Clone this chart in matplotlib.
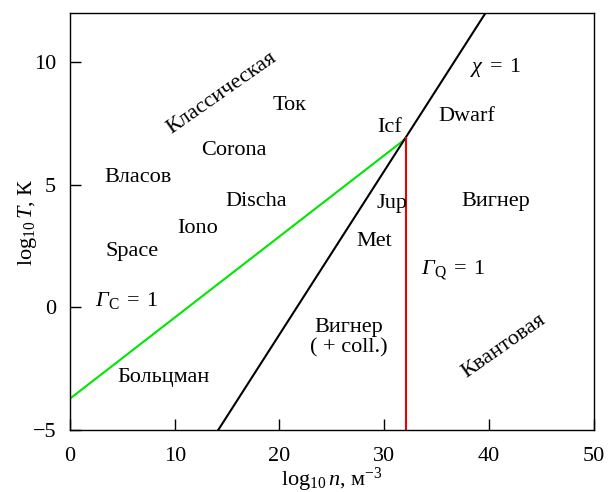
import numpy as np
import matplotlib.pyplot as plt

plt.rcParams['font.family'] = ['Liberation Serif', 'DejaVu Serif']
plt.rcParams['mathtext.fontset'] = 'custom'
plt.rcParams['mathtext.rm'] = 'Liberation Serif'
plt.rcParams['mathtext.it'] = 'Liberation Serif:italic'
plt.rcParams['mathtext.sf'] = 'Liberation Serif:italic'

# -------- Data --------
gc_n = [0, 32.1]          # Gamma_C = 1 (green)
gc_T = [-3.72, 6.9]
chi_n = [14.15, 39.65]    # chi = 1 (black)
chi_T = [-5, 12]
gq_n = [32.1, 32.1]       # Gamma_Q = 1 (red)
gq_T = [-5, 6.9]

labels = ["Ток", "Corona", "Власов", "Discha", "Iono", "Space",
          r"$\mathsf{Γ}_{\mathrm{C}}\;=\;1$", "Больцман", "Icf", "Dwarf",
          r"$\chi\;=\;1$", "Jup", "Вигнер", "Met",
          r"$\mathsf{Γ}_{\mathrm{Q}}\;=\;1$", "Вигнер\n( + coll.)"]
label_n = [21.0, 15.6, 6.5, 17.8, 12.2, 5.9, 5.4, 8.9, 30.5, 37.9,
           40.6, 30.7, 40.6, 29.0, 36.6, 26.6]
label_T = [8.24, 6.41, 5.32, 4.34, 3.2, 2.3, 0.27, -2.85, 7.35, 7.8,
           9.8, 4.26, 4.33, 2.7, 1.53, -1.23]

region_labels = ["Классическая", "Квантовая"]
region_n = [14.5, 41.4]
region_T = [8.73, -1.6]

# -------- Plot --------
fig = plt.figure(figsize=(6.14, 4.92), dpi=100)
ax = fig.add_axes([0.114, 0.126, 0.853, 0.847])

ax.plot(gc_n, gc_T, color='#00e600', lw=1.5)
ax.plot(chi_n, chi_T, color='black', lw=1.5)
ax.plot(gq_n, gq_T, color='#ee0000', lw=1.5)

for s, x, y in zip(labels, label_n, label_T):
    ax.text(x, y, s, ha='center', va='center', fontsize=16, linespacing=1.1)
for s, x, y in zip(region_labels, region_n, region_T):
    ax.text(x, y, s, ha='center', va='center', fontsize=16, rotation=35,
            rotation_mode='anchor')

ax.set_xlim(0, 50)
ax.set_ylim(-5, 12)
ax.set_xticks([0, 10, 20, 30, 40, 50])
ax.set_yticks([-5, 0, 5, 10])
ax.tick_params(direction='in', length=8, width=1, labelsize=16)
ax.tick_params(axis='x', pad=12)
ax.tick_params(axis='y', pad=10)
for sp in ax.spines.values():
    sp.set_linewidth(1)

ax.set_xlabel(r"log$_{10}\,n$, м$^{-3}$", fontsize=16)
ax.set_ylabel(r"log$_{10}\,T$, К", fontsize=16)
ax.xaxis.set_label_coords(0.5, -0.087)
ax.yaxis.set_label_coords(-0.060, 0.5)

fig.savefig("out.png", dpi=100)
